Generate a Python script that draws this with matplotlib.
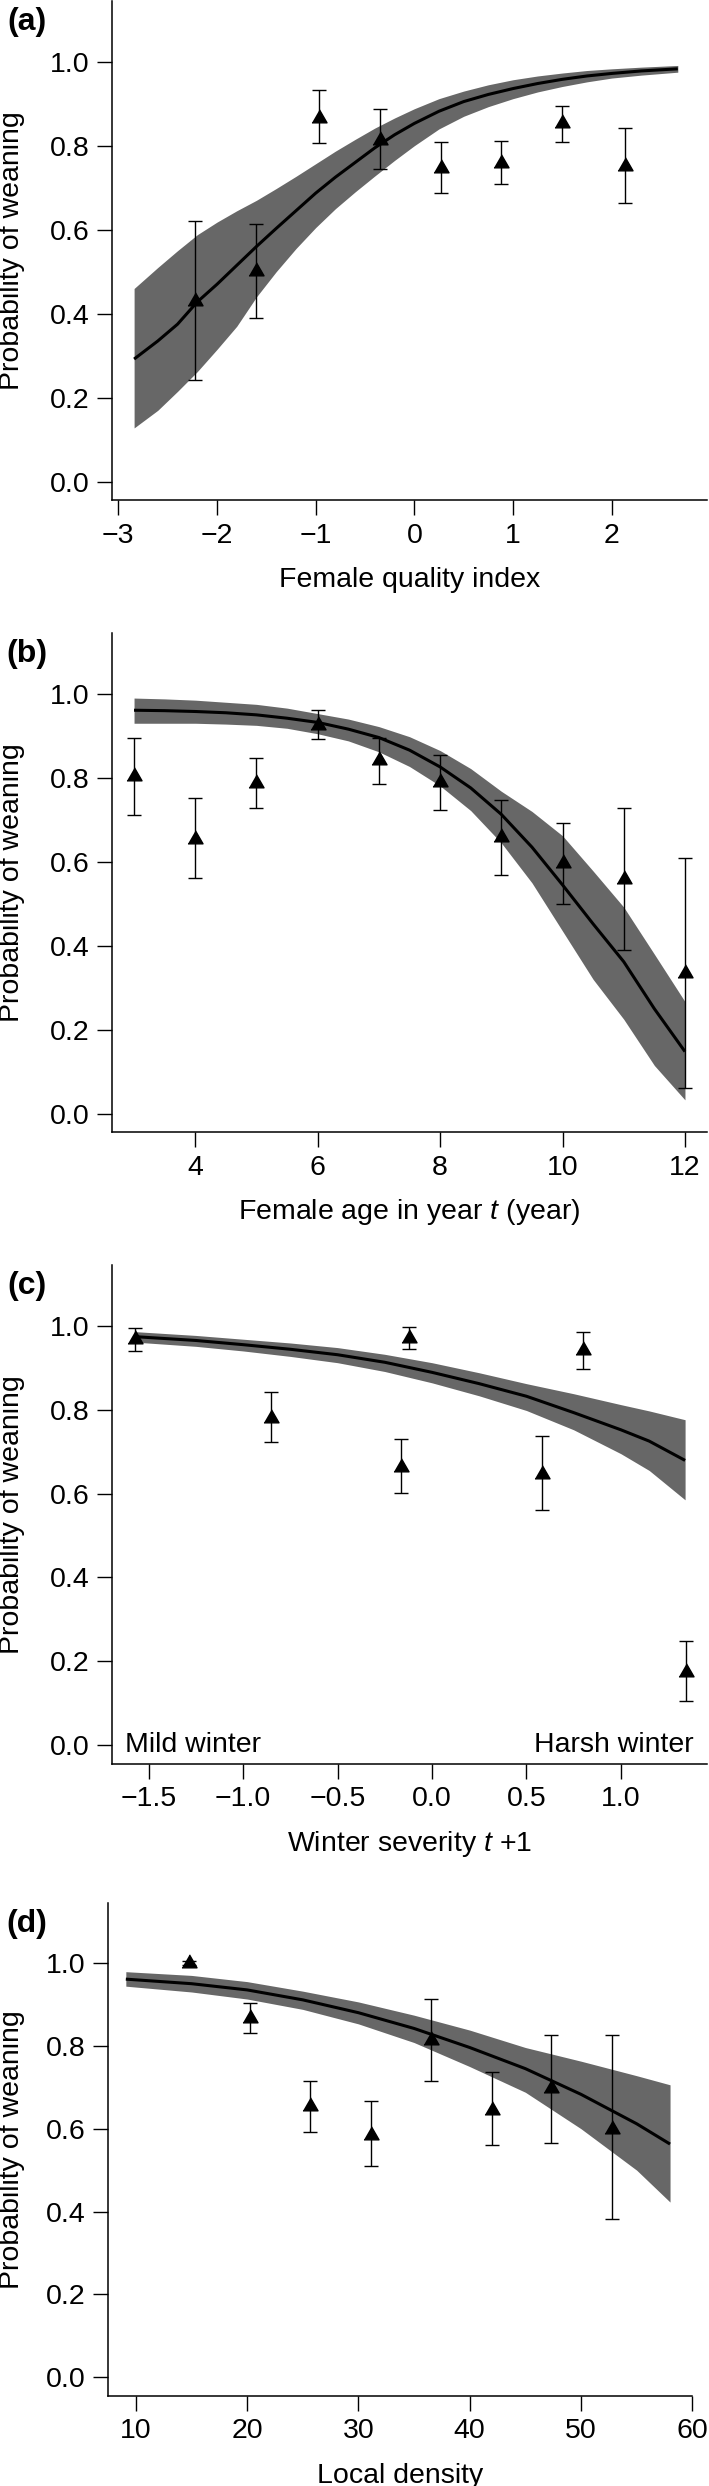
import numpy as np
import matplotlib
matplotlib.use("Agg")
import matplotlib.pyplot as plt
from matplotlib.ticker import FuncFormatter

plt.rcParams["font.family"] = ["Liberation Sans", "DejaVu Sans"]
plt.rcParams["mathtext.fontset"] = "custom"
plt.rcParams["mathtext.rm"] = "Liberation Sans"
plt.rcParams["mathtext.it"] = "Liberation Sans:italic"

# ---- panel (a): female quality index ----
a_pts_x  = [-2.22, -1.60, -0.97, -0.35, 0.27, 0.88, 1.50, 2.13]
a_pts_y  = [0.430, 0.502, 0.867, 0.813, 0.747, 0.759, 0.853, 0.752]
a_pts_lo = [0.242, 0.389, 0.806, 0.745, 0.687, 0.708, 0.809, 0.663]
a_pts_hi = [0.620, 0.614, 0.933, 0.887, 0.809, 0.812, 0.895, 0.843]
a_fit_x  = [-2.84, -2.6, -2.4, -2.2, -2.0, -1.8, -1.6, -1.4, -1.2, -1.0, -0.8, -0.6, -0.4,
            -0.2, 0.0, 0.25, 0.5, 0.75, 1.0, 1.25, 1.5, 1.75, 2.0, 2.3, 2.67]
a_fit_y  = [0.292, 0.335, 0.375, 0.428, 0.470, 0.515, 0.560, 0.603, 0.645, 0.687, 0.725, 0.760, 0.795,
            0.826, 0.853, 0.882, 0.905, 0.922, 0.936, 0.948, 0.958, 0.966, 0.972, 0.978, 0.983]
a_fit_lo = [0.128, 0.170, 0.215, 0.262, 0.315, 0.370, 0.440, 0.500, 0.555, 0.605, 0.650, 0.690, 0.728,
            0.765, 0.800, 0.840, 0.870, 0.893, 0.912, 0.928, 0.941, 0.952, 0.961, 0.968, 0.975]
a_fit_hi = [0.460, 0.510, 0.550, 0.588, 0.618, 0.645, 0.670, 0.698, 0.727, 0.757, 0.787, 0.815, 0.842,
            0.866, 0.888, 0.912, 0.930, 0.945, 0.957, 0.966, 0.973, 0.979, 0.983, 0.987, 0.991]

# ---- panel (b): female age ----
b_pts_x  = [3, 4, 5, 6, 7, 8, 9, 10, 11, 12]
b_pts_y  = [0.804, 0.655, 0.787, 0.927, 0.842, 0.790, 0.660, 0.597, 0.559, 0.335]
b_pts_lo = [0.712, 0.562, 0.729, 0.892, 0.786, 0.723, 0.569, 0.500, 0.391, 0.062]
b_pts_hi = [0.895, 0.751, 0.847, 0.961, 0.894, 0.854, 0.748, 0.692, 0.727, 0.610]
b_fit_x  = [3, 3.5, 4, 4.5, 5, 5.5, 6, 6.5, 7, 7.5, 8, 8.5, 9, 9.5, 10, 10.5, 11, 11.5, 12]
b_fit_y  = [0.961, 0.960, 0.958, 0.955, 0.950, 0.942, 0.932, 0.916, 0.896, 0.866, 0.826, 0.776,
            0.713, 0.635, 0.545, 0.452, 0.362, 0.250, 0.148]
b_fit_lo = [0.930, 0.930, 0.930, 0.928, 0.925, 0.918, 0.905, 0.888, 0.862, 0.827, 0.781, 0.722,
            0.645, 0.550, 0.435, 0.320, 0.225, 0.115, 0.033]
b_fit_hi = [0.990, 0.988, 0.985, 0.980, 0.975, 0.966, 0.953, 0.940, 0.922, 0.898, 0.865, 0.822,
            0.768, 0.720, 0.662, 0.578, 0.492, 0.380, 0.267]

# ---- panel (c): winter severity ----
c_pts_x  = [-1.572, -0.852, -0.164, -0.123, 0.585, 0.798, 1.343]
c_pts_y  = [0.969, 0.780, 0.664, 0.971, 0.647, 0.943, 0.174]
c_pts_lo = [0.941, 0.723, 0.601, 0.945, 0.560, 0.898, 0.105]
c_pts_hi = [0.995, 0.842, 0.729, 0.996, 0.738, 0.986, 0.248]
c_fit_x  = [-1.57, -1.25, -1.0, -0.75, -0.5, -0.25, 0.0, 0.25, 0.5, 0.75, 1.0, 1.15, 1.34]
c_fit_y  = [0.974, 0.965, 0.955, 0.944, 0.931, 0.913, 0.889, 0.862, 0.832, 0.793, 0.752, 0.725, 0.679]
c_fit_lo = [0.961, 0.951, 0.940, 0.927, 0.912, 0.891, 0.864, 0.833, 0.798, 0.752, 0.695, 0.655, 0.585]
c_fit_hi = [0.986, 0.977, 0.968, 0.959, 0.948, 0.932, 0.912, 0.888, 0.862, 0.838, 0.812, 0.797, 0.776]

# ---- panel (d): local density ----
d_pts_x  = [14.8, 20.26, 25.68, 31.1, 36.5, 41.96, 47.33, 52.75]
d_pts_y  = [1.000, 0.868, 0.654, 0.586, 0.815, 0.646, 0.699, 0.600]
d_pts_lo = [0.995, 0.832, 0.592, 0.510, 0.716, 0.560, 0.565, 0.382]
d_pts_hi = [1.005, 0.904, 0.716, 0.667, 0.914, 0.736, 0.825, 0.825]
d_fit_x  = [9.1, 15, 20, 25, 30, 35, 40, 45, 50, 55, 58]
d_fit_y  = [0.961, 0.950, 0.935, 0.911, 0.880, 0.842, 0.796, 0.745, 0.683, 0.612, 0.563]
d_fit_lo = [0.944, 0.930, 0.913, 0.888, 0.853, 0.808, 0.750, 0.688, 0.600, 0.500, 0.423]
d_fit_hi = [0.979, 0.970, 0.955, 0.932, 0.906, 0.874, 0.838, 0.796, 0.763, 0.728, 0.706]

W, H = 709, 2486
FS = 20.5
BAND = "#676767"
TRI = [(-0.866, -0.5), (0.866, -0.5), (0.0, 1.0)]


def minus_fmt(fmt):
    return FuncFormatter(lambda v, p: fmt.format(v).replace("-", "\u2212"))


def panel(fig, box, tag, px, py, plo, phi, fx, fy, flo, fhi,
          xlim, xticks, xfmt, xlabel):
    left, top, right, bottom = box
    ax = fig.add_axes([left / W, 1 - bottom / H, (right - left) / W, (bottom - top) / H])
    ax.fill_between(fx, flo, fhi, color=BAND, lw=0)
    ax.plot(fx, fy, color="black", lw=2.2, solid_capstyle="butt", solid_joinstyle="round")
    py = np.array(py)
    yerr = [py - np.array(plo), np.array(phi) - py]
    ax.errorbar(px, py, yerr=yerr, fmt="none", ecolor="black", elinewidth=1.0,
                capsize=5, capthick=1.0)
    ax.plot(px, py, ls="none", marker=TRI, ms=12.5, color="black")

    ax.set_xlim(*xlim)
    ax.set_ylim(-0.044, 1.144)
    ax.set_xticks(xticks)
    ax.xaxis.set_major_formatter(minus_fmt(xfmt))
    ax.set_yticks(np.arange(0, 1.01, 0.2))
    ax.yaxis.set_major_formatter(minus_fmt("{:.1f}"))
    for s in ("top", "right"):
        ax.spines[s].set_visible(False)
    for s in ("left", "bottom"):
        ax.spines[s].set_linewidth(1.1)
    ax.tick_params(direction="out", length=10.8, width=1.0, pad=5.5, labelsize=FS)

    hpx = bottom - top
    wpx = right - left
    ax.set_xlabel(xlabel, fontsize=FS, va="center")
    ax.xaxis.set_label_coords(0.5, -80 / hpx)
    ax.set_ylabel("Probability of weaning", fontsize=FS, va="center")
    ax.yaxis.set_label_coords((12 - left) / wpx, 0.5)
    ax.text((27 - left) / wpx, 1 - 21 / hpx, tag, transform=ax.transAxes,
            fontsize=23, fontweight="bold", ha="center", va="center")
    return ax


fig = plt.figure(figsize=(W / 100, H / 100), dpi=100)

panel(fig, (112, 1.2, 707, 500.2), "(a)", a_pts_x, a_pts_y, a_pts_lo, a_pts_hi,
      a_fit_x, a_fit_y, a_fit_lo, a_fit_hi,
      (-3.064, 2.966), [-3, -2, -1, 0, 1, 2], "{:.0f}", "Female quality index")

panel(fig, (112, 633.4, 707, 1132.2), "(b)", b_pts_x, b_pts_y, b_pts_lo, b_pts_hi,
      b_fit_x, b_fit_y, b_fit_lo, b_fit_hi,
      (2.64, 12.36), [4, 6, 8, 10, 12], "{:.0f}", "Female age in year $t$ (year)")

ax_c = panel(fig, (112, 1265.4, 707, 1763.6), "(c)", c_pts_x, c_pts_y, c_pts_lo, c_pts_hi,
             c_fit_x, c_fit_y, c_fit_lo, c_fit_hi,
             (-1.694, 1.456), [-1.5, -1.0, -0.5, 0.0, 0.5, 1.0], "{:.1f}",
             "Winter severity $t$ $\\mathit{+1}$")
ax_c.text(13 / 595, 0.0, "Mild winter", transform=ax_c.get_yaxis_transform(),
          fontsize=FS, ha="left", va="center")
ax_c.text(1 - 13 / 595, 0.0, "Harsh winter", transform=ax_c.get_yaxis_transform(),
          fontsize=FS, ha="right", va="center")

panel(fig, (107.8, 1903.3, 692.3, 2395.6), "(d)", d_pts_x, d_pts_y, d_pts_lo, d_pts_hi,
      d_fit_x, d_fit_y, d_fit_lo, d_fit_hi,
      (7.48, 60.0), [10, 20, 30, 40, 50, 60], "{:.0f}", "Local density")

fig.savefig("out.png", dpi=100)
